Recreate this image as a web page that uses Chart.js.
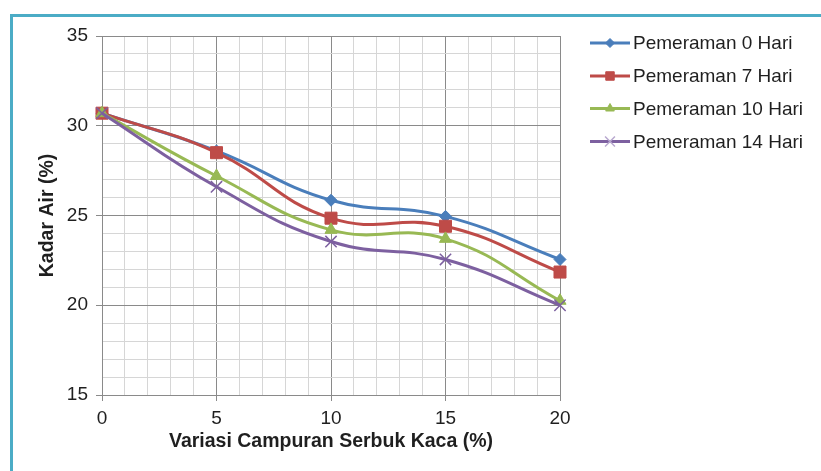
<!DOCTYPE html>
<html>
<head>
<meta charset="utf-8">
<style>
  html, body { margin: 0; padding: 0; background: #ffffff; }
  #wrap { position: relative; width: 821px; height: 471px; }
  canvas { display: block; }
</style>
<script src="https://cdn.jsdelivr.net/npm/chart.js@4/dist/chart.umd.min.js"></script>
</head>
<body>
<div id="wrap"><canvas id="c" width="821" height="471"></canvas></div>
<script>
// Glass powder mix (%) on the x axis
const variasi = [0, 5, 10, 15, 20];

// Moisture content (%) per curing period
const hari0  = [30.7, 28.6, 25.85, 24.95, 22.55];
const hari7  = [30.7, 28.5, 24.85, 24.4, 21.85];
const hari10 = [30.7, 27.2, 24.2, 23.7, 20.25];
const hari14 = [30.7, 26.6, 23.55, 22.55, 20.0];

const seriesNames = ['Pemeraman 0 Hari', 'Pemeraman 7 Hari', 'Pemeraman 10 Hari', 'Pemeraman 14 Hari'];
const xTitle = 'Variasi Campuran Serbuk Kaca (%)';
const yTitle = 'Kadar Air (%)';

const FONT = "'Liberation Sans', Arial, sans-serif";
const TEXT = '#1f1f1f';
const MAJOR = '#8a8a8a';
const MINOR = '#d6d6d6';

function toPoints(ys) { return variasi.map((x, i) => ({ x: x, y: ys[i] })); }

const styles = [
  { color: '#4a7ebb', point: 'rectRot', radius: 6, legendRadius: 4.5, pbw: 1 },
  { color: '#be4b48', point: 'rect', radius: 8.5, legendRadius: 6, pbw: 1 },
  { color: '#98b954', point: 'triangle', radius: 7, legendRadius: 5, pbw: 1 },
  { color: '#7d60a0', point: 'crossRot', radius: 8, legendRadius: 7, pbw: 1.5 }
];
const values = [hari0, hari7, hari10, hari14];

// later series are drawn over earlier ones
const datasets = values.map((v, i) => ({
  label: seriesNames[i],
  data: toPoints(v),
  order: values.length - 1 - i,
  borderColor: styles[i].color,
  backgroundColor: styles[i].color,
  pointBackgroundColor: styles[i].color,
  pointBorderColor: styles[i].color,
  pointStyle: styles[i].point,
  pointRadius: styles[i].radius,
  pointBorderWidth: styles[i].pbw,
  borderWidth: 3,
  tension: 0.45,
  clip: false,
  fill: false
}));

// Teal frame around the chart and a line+marker legend on the right
const framePlugin = {
  id: 'frameAndLegend',
  beforeDraw(chart) {
    const ctx = chart.ctx;
    ctx.save();
    ctx.fillStyle = '#ffffff';
    ctx.fillRect(0, 0, chart.width, chart.height);
    ctx.strokeStyle = '#4bacc6';
    ctx.lineWidth = 3;
    ctx.beginPath();
    ctx.moveTo(11.5, chart.height + 5);
    ctx.lineTo(11.5, 15.5);
    ctx.lineTo(chart.width + 5, 15.5);
    ctx.stroke();
    ctx.restore();
  },
  afterDraw(chart) {
    const ctx = chart.ctx;
    const x0 = 590, x1 = 630, tx = 633;
    const ys = [43, 76, 108.5, 141.5];
    ctx.save();
    chart.data.datasets.forEach((ds, i) => {
      const y = ys[i];
      ctx.strokeStyle = ds.borderColor;
      ctx.lineWidth = 3;
      ctx.beginPath();
      ctx.moveTo(x0, y);
      ctx.lineTo(x1, y);
      ctx.stroke();
      ctx.fillStyle = ds.pointBackgroundColor;
      ctx.strokeStyle = i === 3 ? '#b9a9cf' : ds.pointBorderColor;
      ctx.lineWidth = ds.pointBorderWidth;
      Chart.helpers.drawPoint(ctx, { pointStyle: ds.pointStyle, radius: styles[i].legendRadius, borderWidth: ds.pointBorderWidth, rotation: 0 }, (x0 + x1) / 2, y);
      ctx.fillStyle = TEXT;
      ctx.font = '19px ' + FONT;
      ctx.textBaseline = 'middle';
      ctx.textAlign = 'left';
      ctx.fillText(ds.label, tx, y + 1);
    });
    ctx.restore();
  }
};

new Chart(document.getElementById('c'), {
  type: 'line',
  data: { datasets: datasets },
  options: {
    responsive: false,
    animation: false,
    events: [],
    layout: { padding: { left: 36, right: 261, top: 36, bottom: 10 } },
    plugins: { legend: { display: false }, tooltip: { enabled: false } },
    scales: {
      x: {
        type: 'linear',
        min: 0, max: 20,
        afterFit(s) { s.height = 471 - 395 - 10; },
        ticks: {
          stepSize: 1,
          autoSkip: false,
          maxRotation: 0,
          padding: 6,
          color: TEXT,
          font: { family: FONT, size: 19 },
          callback: v => (v % 5 === 0 ? String(v) : '')
        },
        grid: {
          color: c => (c.tick && c.tick.value % 5 === 0 ? MAJOR : MINOR),
          tickColor: c => (c.tick && c.tick.value % 5 === 0 ? MAJOR : 'rgba(0,0,0,0)'),
          tickLength: 6,
          lineWidth: 1
        },
        border: { color: MAJOR },
        title: {
          display: true,
          text: xTitle,
          color: TEXT,
          font: { family: FONT, size: 19.5, weight: 'bold' },
          padding: { top: 0, bottom: 8 }
        }
      },
      y: {
        min: 15, max: 35,
        afterFit(s) { s.width = 102 - 36; },
        ticks: {
          stepSize: 1,
          autoSkip: false,
          padding: 8,
          color: TEXT,
          font: { family: FONT, size: 19 },
          callback: v => (v % 5 === 0 ? String(v) : '')
        },
        grid: {
          color: c => (c.tick && c.tick.value % 5 === 0 ? MAJOR : MINOR),
          tickColor: c => (c.tick && c.tick.value % 5 === 0 ? MAJOR : 'rgba(0,0,0,0)'),
          tickLength: 6,
          lineWidth: 1
        },
        border: { color: MAJOR },
        title: {
          display: true,
          text: yTitle,
          color: TEXT,
          font: { family: FONT, size: 19.5, weight: 'bold' },
          padding: { top: 0, bottom: 0 }
        }
      }
    }
  },
  plugins: [framePlugin]
});
</script>
</body>
</html>
